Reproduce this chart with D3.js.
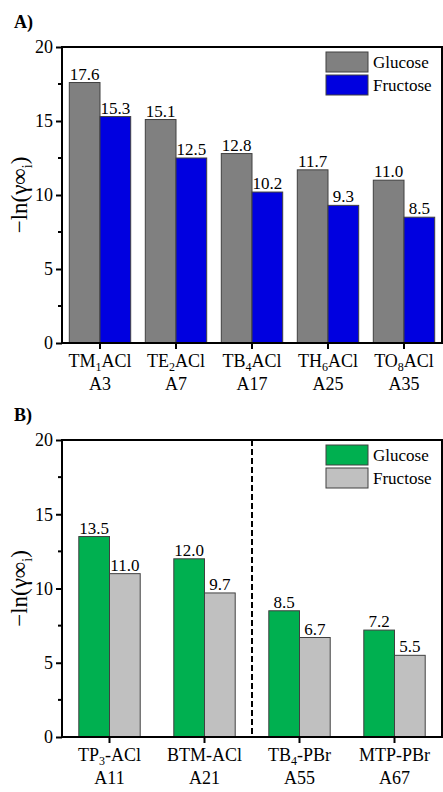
<!DOCTYPE html>
<html>
<head>
<meta charset="utf-8">
<script src="https://cdn.jsdelivr.net/npm/d3@7"></script>
<style>
  body { margin: 0; background: #fff; }
  text { font-family: "Liberation Serif", "Times New Roman", serif; fill: #000; }
</style>
</head>
<body>
<div id="chart"></div>
<script>
var series = ["Glucose", "Fructose"];
var yTicks = [0, 5, 10, 15, 20];

// panel A
var namesA = [["TM", "1", "ACl"], ["TE", "2", "ACl"], ["TB", "4", "ACl"], ["TH", "6", "ACl"], ["TO", "8", "ACl"]];
var codesA = ["A3", "A7", "A17", "A25", "A35"];
var glucoseA = [17.6, 15.1, 12.8, 11.7, 11.0];
var fructoseA = [15.3, 12.5, 10.2, 9.3, 8.5];
var colorsA = ["#808080", "#0000E0"];

// panel B
var namesB = [["TP", "3", "-ACl"], ["BTM-ACl"], ["TB", "4", "-PBr"], ["MTP-PBr"]];
var codesB = ["A11", "A21", "A55", "A67"];
var glucoseB = [13.5, 12.0, 8.5, 7.2];
var fructoseB = [11.0, 9.7, 6.7, 5.5];
var colorsB = ["#00B050", "#C0C0C0"];

var W = 443, H = 792;
var svg = d3.select("#chart").append("svg")
	.attr("width", W)
	.attr("height", H);

var fmt = d3.format(".1f");

function drawPanel(cfg) {
	var left = 62, right = 442;
	var g = svg.append("g");

	var y = d3.scaleLinear().domain([0, 20]).range([cfg.bottom, cfg.top]);
	var x0 = d3.scaleBand().domain(d3.range(cfg.names.length)).range([left, right]).padding(0);
	var barW = 30.7;
	var x1 = d3.scaleBand().domain(series).range([-barW, barW]);

	var rows = cfg.names.map(function(n, i) {
		return {i: i, vals: [cfg.glucose[i], cfg.fructose[i]]};
	});

	// bars
	var grp = g.selectAll(".grp")
		.data(rows)
		.enter().append("g")
		.attr("transform", function(d) { return "translate(" + (x0(d.i) + x0.bandwidth() / 2) + ",0)"; });

	grp.selectAll("rect")
		.data(function(d) { return d.vals.map(function(v, k) { return {k: k, v: v}; }); })
		.enter().append("rect")
		.attr("x", function(d) { return x1(series[d.k]); })
		.attr("y", function(d) { return y(d.v); })
		.attr("width", x1.bandwidth())
		.attr("height", function(d) { return y(0) - y(d.v); })
		.attr("fill", function(d) { return cfg.colors[d.k]; })
		.attr("stroke", "#404040")
		.attr("stroke-width", 1);

	grp.selectAll(".val")
		.data(function(d) { return d.vals.map(function(v, k) { return {k: k, v: v}; }); })
		.enter().append("text")
		.attr("x", function(d) { return x1(series[d.k]) + x1.bandwidth() / 2; })
		.attr("y", function(d) { return y(d.v) - 3; })
		.attr("text-anchor", "middle")
		.attr("font-size", "17px")
		.text(function(d) { return fmt(d.v); });

	// dashed separator
	if (cfg.divider != null) {
		g.append("line")
			.attr("x1", x0(cfg.divider)).attr("x2", x0(cfg.divider))
			.attr("y1", cfg.top).attr("y2", cfg.bottom)
			.attr("stroke", "#000")
			.attr("stroke-width", 2)
			.attr("stroke-dasharray", "6,3");
	}

	// frame
	g.append("rect")
		.attr("x", left).attr("y", cfg.top)
		.attr("width", right - left).attr("height", cfg.bottom - cfg.top)
		.attr("fill", "none")
		.attr("stroke", "#000")
		.attr("stroke-width", 2);

	// y axis
	var yAxis = d3.axisLeft(y).tickValues(yTicks).tickSize(6).tickPadding(3);
	var ya = g.append("g").attr("transform", "translate(" + left + ",0)").call(yAxis);
	ya.select(".domain").remove();
	ya.selectAll(".tick line").attr("stroke-width", 2);
	ya.selectAll(".tick text").attr("font-size", "18px").style("font-family", "Liberation Serif");
	var minor = d3.range(2.5, 20, 5);
	g.selectAll(".minor")
		.data(minor)
		.enter().append("line")
		.attr("x1", left - 4).attr("x2", left)
		.attr("y1", function(d) { return y(d); }).attr("y2", function(d) { return y(d); })
		.attr("stroke", "#000")
		.attr("stroke-width", 2);

	// x axis ticks + labels
	var xAxis = d3.axisBottom(x0).tickSize(6).tickFormat("");
	var xa = g.append("g").attr("transform", "translate(0," + cfg.bottom + ")").call(xAxis);
	xa.select(".domain").remove();
	xa.selectAll(".tick line").attr("stroke-width", 2);

	var lab = g.selectAll(".cat")
		.data(cfg.names)
		.enter().append("text")
		.attr("x", function(d, i) { return x0(i) + x0.bandwidth() / 2; })
		.attr("y", cfg.bottom + 24)
		.attr("text-anchor", "middle")
		.attr("font-size", "18px");
	lab.each(function(d) {
		var t = d3.select(this);
		t.append("tspan").text(d[0]);
		if (d.length > 1) {
			t.append("tspan").attr("font-size", "12px").attr("dy", 4).text(d[1]);
			t.append("tspan").attr("dy", -4).text(d[2]);
		}
	});
	g.selectAll(".code")
		.data(cfg.codes)
		.enter().append("text")
		.attr("x", function(d, i) { return x0(i) + x0.bandwidth() / 2; })
		.attr("y", cfg.bottom + 47)
		.attr("text-anchor", "middle")
		.attr("font-size", "18px")
		.text(function(d) { return d; });

	// y label
	var yl = g.append("text")
		.attr("transform", "translate(27," + ((cfg.top + cfg.bottom) / 2) + ") rotate(-90)")
		.attr("text-anchor", "middle")
		.attr("font-size", "23px");
	yl.append("tspan").text("\u2212ln(\u03b3\u221e");
	yl.append("tspan").attr("font-size", "14px").attr("dy", 5).text("i");
	yl.append("tspan").attr("dy", -5).text(")");

	// panel letter
	g.append("text")
		.attr("x", 14).attr("y", cfg.top - 19)
		.attr("font-size", "18px")
		.attr("font-weight", "bold")
		.text(cfg.letter);

	// legend
	var lg = g.selectAll(".leg")
		.data(series)
		.enter().append("g")
		.attr("transform", function(d, i) { return "translate(326," + (cfg.top + 5 + i * 23) + ")"; });
	lg.append("rect")
		.attr("width", 42).attr("height", 20)
		.attr("fill", function(d, i) { return cfg.colors[i]; })
		.attr("stroke", "#404040")
		.attr("stroke-width", 1);
	lg.append("text")
		.attr("x", 47).attr("y", 15.5)
		.attr("font-size", "17px")
		.text(function(d) { return d; });
}

drawPanel({letter: "A)", top: 47, bottom: 343, names: namesA, codes: codesA,
	glucose: glucoseA, fructose: fructoseA, colors: colorsA, divider: null});
drawPanel({letter: "B)", top: 440, bottom: 737, names: namesB, codes: codesB,
	glucose: glucoseB, fructose: fructoseB, colors: colorsB, divider: 2});
</script>
</body>
</html>
